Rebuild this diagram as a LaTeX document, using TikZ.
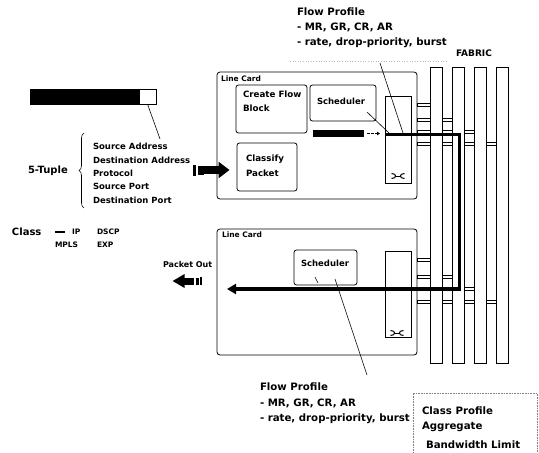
\documentclass[tikz,border=0pt]{standalone}
\usepackage{fontspec}
\setmainfont{DejaVu Sans}
\usetikzlibrary{arrows.meta,decorations.pathreplacing}
\begin{document}
\begin{tikzpicture}[x=1pt,y=-1pt,
  every node/.style={inner sep=0pt, outer sep=0pt},
  txt/.style={anchor=west, font=\bfseries\fontsize{#1}{#1}\selectfont},
  ctxt/.style={anchor=center, font=\bfseries\fontsize{#1}{#1}\selectfont},
  card/.style={draw, rounded corners=3pt, line width=0.8pt, anchor=north west},
  ibox/.style={draw, rounded corners=2.5pt, line width=0.8pt, anchor=north west},
  swbox/.style={draw, line width=0.8pt, anchor=north west, minimum width=26pt},
  bar/.style={draw, fill=white, line width=0.7pt, anchor=north west, minimum width=12pt, minimum height=296pt},
  conn/.style={draw, fill=white, line width=0.5pt},
  swx/.pic={\draw[line width=1pt] (-6.5,-2.5) .. controls (-1,-2.5) and (-1,2.5) .. (-6.5,2.5);
            \draw[line width=1pt] (6.5,-2.5) .. controls (1,-2.5) and (1,2.5) .. (6.5,2.5);
            \draw[line width=1pt] (-2.4,0) -- (2.4,0);},
  heavy/.style={line width=3.8pt, line join=miter}
]
\useasboundingbox (0,0) rectangle (539,453);

% ---------- header bar and 5-tuple ----------
\node[fill=black, draw, anchor=north west, minimum width=109pt, minimum height=15pt] (hb) at (30,89) {};
\node[fill=white, draw, line width=0.8pt, anchor=north west, minimum width=17pt, minimum height=15pt] (hw) at (139,89) {};
\node[txt=8.5] (src) at (93,146) {Source Address};
\node[txt=8.5] (dst) at (93,160) {Destination Address};
\node[txt=8.5] (prot) at (93,173) {Protocol};
\node[txt=8.5] (sport) at (93,186) {Source Port};
\node[txt=8.5] (dport) at (93,200) {Destination Port};
\coordinate (srcpt) at (160,139);
\draw[line width=0.6pt] (hw.south) -- (srcpt);
\draw[line width=0.6pt, decorate, decoration={brace, amplitude=5pt}] (84,208) -- (84,133);
\node[txt=10] (tuple) at (28,171) {5-Tuple};

% ---------- class ----------
\node[txt=10] (cls) at (12,232) {Class};
\node[anchor=west] (dash) at (55,232) {\rule[0pt]{10pt}{1.1pt}};
\node[txt=7.5] (ip) at (72,232) {IP};
\node[txt=7.5] (dscp) at (97,232) {DSCP};
\node[txt=7.5] (mpls) at (55,245) {MPLS};
\node[txt=7.5] (exp) at (97,245) {EXP};

% ---------- top flow profile ----------
\node[txt=10.2] (fp1a) at (297,12) {Flow Profile};
\node[txt=10.2] (fp1b) at (297,27) {- MR, GR, CR, AR};
\node[txt=10.2] (fp1c) at (297,43) {- rate, drop-priority, burst};
\draw[gray!55, dotted, line width=0.6pt] (290,61) -- (448,61);
\node[ctxt=9] (fabric) at (474,53) {FABRIC};

% ---------- connectors to fabric (under bars) ----------
\draw[conn] (417,103) rectangle (432,106);
\draw[conn] (417,118) rectangle (455,121);
\draw[conn] (417,130) rectangle (476,133);
\draw[conn] (417,142) rectangle (499,145);
\draw[conn] (417,258) rectangle (432,261);
\draw[conn] (417,275) rectangle (455,278);
\draw[conn] (417,287.5) rectangle (476,290.5);
\draw[conn] (417,300) rectangle (499,303);

% ---------- fabric bars ----------
\node[bar] (f1) at (430.5,67) {};
\node[bar] (f2) at (452.5,67) {};
\node[bar] (f3) at (474.5,67) {};
\node[bar] (f4) at (496.5,67) {};

% ---------- top line card ----------
\node[card, minimum width=200pt, minimum height=127pt] (lc1) at (217,72) {};
\node[txt=7.5] (lc1t) at (221,79) {Line Card};
\node[ibox, minimum width=71pt, minimum height=48pt] (cfb) at (236,85) {};
\node[txt=8.7] (cfbt1) at (243,94) {Create Flow};
\node[txt=8.7] (cfbt2) at (243,108) {Block};
\node[ibox, minimum width=66pt, minimum height=36pt] (sch1) at (310,85) {};
\node[ctxt=8.5] (sch1t) at (341,101) {Scheduler};
\node[ibox, minimum width=60pt, minimum height=48pt] (clp) at (237,143) {};
\node[txt=8.7] (clpt1) at (246,159) {Classify};
\node[txt=8.7] (clpt2) at (246,173) {Packet};
\node[swbox, minimum height=87pt] (sw1) at (385,96) {};
\pic at (398,176) {swx};
\node[fill=black, anchor=north west, minimum width=51pt, minimum height=7pt] (bb) at (313,130) {};
\draw[line width=1.2pt, dash pattern=on 3pt off 1.2pt, -{Triangle[length=3pt,width=3.5pt]}] (bb.east) ++(3,0) coordinate (da) -- (380,133.5) coordinate (db);

% ---------- bottom line card ----------
\node[card, minimum width=200pt, minimum height=126pt] (lc2) at (217,229) {};
\node[txt=7.5] (lc2t) at (222,235) {Line Card};
\node[ibox, minimum width=63pt, minimum height=35pt] (sch2) at (294,250) {};
\node[ctxt=8.5] (sch2t) at (325,263) {Scheduler};
\node[swbox, minimum height=86pt] (sw2) at (385,251) {};
\pic at (397,333) {swx};

% ---------- input arrow ----------
\fill (193,164.5) rectangle (195.5,175.5);
\fill (197.5,165.5) rectangle (203.5,174.5);
\coordinate (inS) at (204,170);
\coordinate (inE) at (229.5,170);
\draw[line width=8pt, -{Triangle[length=11pt,width=16pt]}] (inS) -- (inE);

% ---------- output ----------
\node[txt=8] (pout) at (163,265) {Packet Out};
\coordinate (outS) at (193.5,281);
\coordinate (outE) at (172.5,281);
\draw[line width=7pt, -{Triangle[length=12pt,width=13pt]}] (outS) -- (outE);
\fill (195.5,277.5) rectangle (198.5,284.5);
\fill (200,277) rectangle (202,285);

% ---------- flow path ----------
\coordinate (p0) at (386,134.5);
\coordinate (p1) at (459.5,134.5);
\coordinate (p2) at (459.5,289);
\coordinate (p3) at (227,289);
\draw[heavy, -{Triangle[length=9pt,width=10pt]}] (p0) -- (p1) -- (p2) -- (p3);

% ---------- pointer lines ----------
\coordinate (fpt) at (380,63);
\coordinate (fptE) at (403,133);
\draw[line width=0.6pt] (fpt) -- (fptE);
\coordinate (s1a) at (367,112);
\coordinate (s1b) at (389,133);
\draw[line width=0.6pt] (s1a) -- (s1b);
\coordinate (fp2pt) at (367,375);
\coordinate (s2a) at (335,279);
\draw[line width=0.6pt] (fp2pt) -- (s2a);
\coordinate (s2c) at (315,277);
\coordinate (s2d) at (318,283);
\draw[line width=0.6pt] (s2c) -- (s2d);

% ---------- bottom flow profile ----------
\node[txt=10.2] (fp2a) at (260,387) {Flow Profile};
\node[txt=10.2] (fp2b) at (260,403) {- MR, GR, CR, AR};
\node[txt=10.2] (fp2c) at (260,419) {- rate, drop-priority, burst};

% ---------- class profile ----------
\node[draw=gray, densely dotted, line width=0.6pt, anchor=north west, minimum width=124pt, minimum height=66pt] (cpbox) at (413,393) {};
\node[txt=10.2] (cp1) at (422,411) {Class Profile};
\node[txt=10.2] (cp2) at (422,427) {Aggregate};
\node[txt=10.2] (cp3) at (426,445) {Bandwidth Limit};
\end{tikzpicture}
\end{document}
